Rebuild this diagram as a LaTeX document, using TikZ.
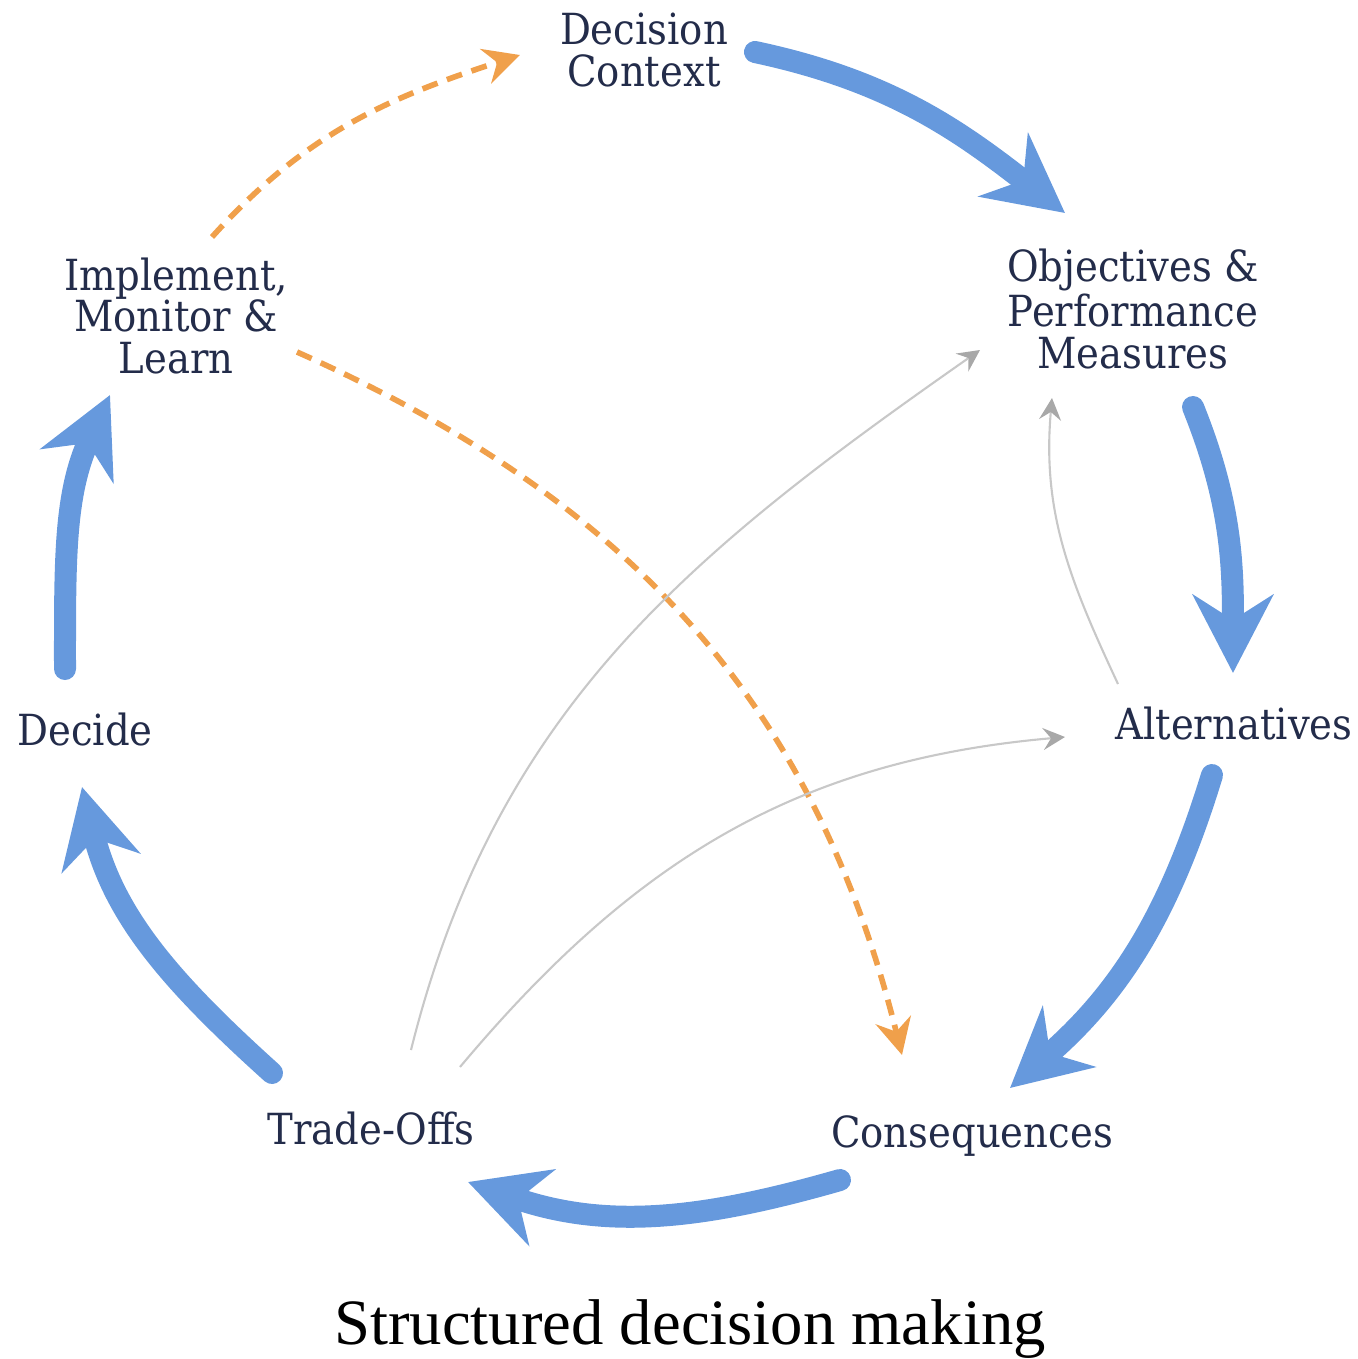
\documentclass[tikz,border=0pt]{standalone}
\usepackage{fontspec}
\setmainfont{DejaVu Serif}[FakeStretch=0.9]
\newfontfamily\titlefont{Liberation Serif}
\usetikzlibrary{arrows.meta}

\definecolor{sdmblue}{HTML}{6699DD}
\definecolor{sdmorange}{HTML}{F0A04B}
\definecolor{sdmtext}{HTML}{232C4A}
\definecolor{sdmgrey}{HTML}{C8C8C8}
\definecolor{sdmgreyhead}{HTML}{A8A8A8}

\begin{document}
\begin{tikzpicture}
        \tikzstyle{stage} = [inner sep=0pt, align=center, text=sdmtext, font=\fontsize{12.2}{11.9}\selectfont];
        \tikzstyle{mainflow} = [line width=0.22cm, draw=sdmblue, line cap=round, -{Stealth[length=0.78cm, width=0.8cm, inset=0.25cm]}];
        \tikzstyle{feedback} = [line width=1.6pt, draw=sdmorange, dash pattern=on 0.16cm off 0.1cm, -{Stealth[length=0.36cm, width=0.36cm, inset=0.12cm]}];
        \tikzstyle{link} = [line width=0.6pt, draw=sdmgrey, -{Stealth[length=0.22cm, width=0.22cm, inset=0.08cm, color=sdmgreyhead]}];

        \useasboundingbox (0,0) rectangle (13.58,-13.59);

        \node(ctx) [stage] at (6.44,-0.50) {Decision\\Context};
        \node(obj) [stage] at (11.33,-3.09) {Objectives \&\\Performance\\Measures};
        \node(alt) [stage] at (12.34,-7.24) {Alternatives};
        \node(cons) [stage] at (9.72,-11.36) {Consequences};
        \node(trade) [stage] at (3.71,-11.28) {Trade-Offs};
        \node(decide) [stage] at (0.85,-7.30) {Decide};
        \node(impl) [stage] at (1.76,-3.16) {Implement,\\Monitor \&\\Learn};
        \node(title) [inner sep=0pt] at (6.90,-13.29) {\titlefont\fontsize{18.4}{20}\selectfont Structured decision making};

        % main cycle
        \draw[mainflow] ([shift={(1.11,-0.02)}]ctx.center) to[out=-12, in=142] ([shift={(-0.68,0.96)}]obj.center);
        \draw[mainflow] ([shift={(0.60,-0.98)}]obj.center) to[out=-68, in=90] ([shift={(-0.01,0.51)}]alt.center);
        \draw[mainflow] ([shift={(-0.22,-0.51)}]alt.center) to[out=-107, in=41] ([shift={(0.38,0.48)}]cons.center);
        \draw[mainflow] ([shift={(-1.32,-0.44)}]cons.center) to[out=-164, in=-19] ([shift={(0.97,-0.54)}]trade.center);
        \draw[mainflow] ([shift={(-0.99,0.55)}]trade.center) to[out=138, in=-76] ([shift={(-0.03,-0.57)}]decide.center);
        \draw[mainflow] ([shift={(-0.20,0.61)}]decide.center) to[out=90, in=-115] ([shift={(-0.66,-0.79)}]impl.center);

        % learning loops
        \draw[feedback] ([shift={(0.36,0.79)}]impl.center) to[out=48, in=-162] ([shift={(-1.24,-0.05)}]ctx.center);
        \draw[feedback] ([shift={(1.21,-0.36)}]impl.center) to[out=-24, in=104] ([shift={(-0.70,0.81)}]cons.center);

        % iterations
        \draw[link] ([shift={(0.40,0.78)}]trade.center) to[out=76, in=-145] ([shift={(-1.53,-0.41)}]obj.center);
        \draw[link] ([shift={(0.89,0.61)}]trade.center) to[out=50, in=-175] ([shift={(-1.69,-0.13)}]alt.center);
        \draw[link] ([shift={(-1.16,0.40)}]alt.center) to[out=115, in=-95] ([shift={(-0.81,-0.89)}]obj.center);

    \end{tikzpicture}
\end{document}
